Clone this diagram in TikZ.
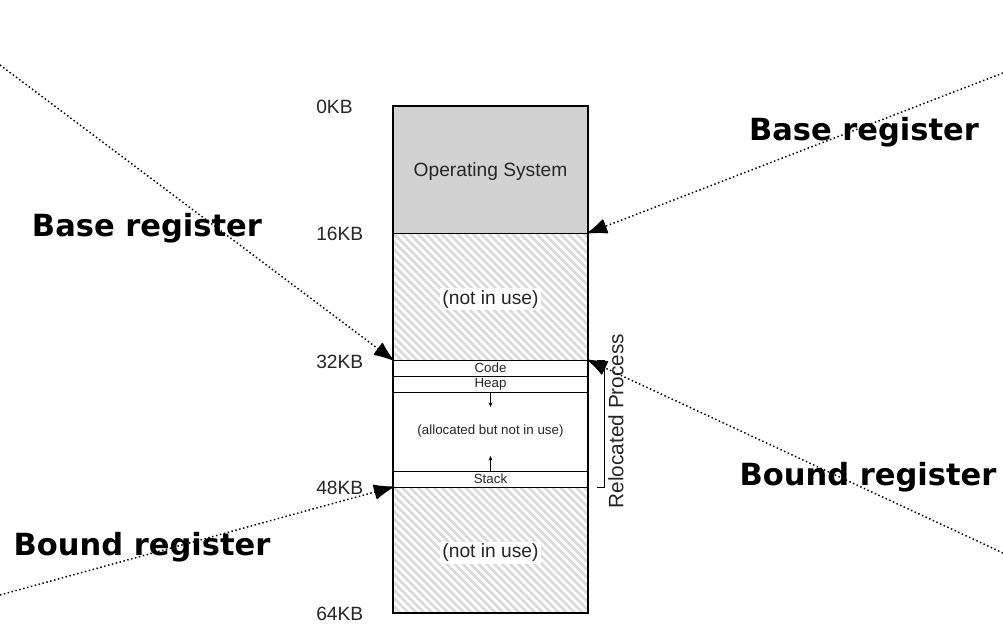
\documentclass[tikz,border=0pt]{standalone}
\usepackage{fontspec}
\setmainfont{Liberation Sans}
\newfontfamily\regfont{DejaVu Sans}
\usetikzlibrary{arrows.meta,positioning,calc,patterns.meta}

\begin{document}
\begin{tikzpicture}[x=0.75pt,y=-0.75pt,
        region/.style={rectangle, draw=black, line width=0.6pt, minimum width=146.25pt,
        inner sep=0pt, outer sep=0pt, anchor=north, text=black!85},
        hatched/.style={region, pattern={Lines[angle=-45,distance=4.2pt,line width=2pt]}, pattern color=gray!30},
        bigtext/.style={font=\fontsize{14.4}{16}\selectfont},
        smalltext/.style={font=\fontsize{10}{11}\selectfont},
        kblabel/.style={bigtext, anchor=west, inner sep=0pt, text=black!85},
        whitebox/.style={bigtext, fill=white, inner sep=1.5pt, text=black!85},
        reglabel/.style={font=\regfont\bfseries\fontsize{22.9}{26}\selectfont, inner sep=0pt},
        regarrow/.style={line width=1.1pt, dash pattern=on 1.1pt off 1.9pt,
        -{Latex[length=16pt,width=12pt,round=false]}}]
        \useasboundingbox (0,0) rectangle (1003,624);

        % memory regions, top to bottom
        \node (os) [region, fill=gray!35, minimum height=95.25pt, bigtext, text depth=-5pt] at (490.5,106) {Operating System};
        \node (free1) [hatched, minimum height=95.25pt, below=0pt of os] {};
        \node (code) [region, minimum height=12pt, below=0pt of free1, smalltext] {Code};
        \node (heap) [region, minimum height=12pt, below=0pt of code, smalltext] {Heap};
        \node (gap) [region, minimum height=59.25pt, below=0pt of heap, smalltext] {(allocated but not in use)};
        \node (stack) [region, minimum height=12pt, below=0pt of gap, smalltext] {Stack};
        \node (free2) [hatched, minimum height=94.5pt, below=0pt of stack] {};
        \node (free1txt) [whitebox] at ([yshift=-2pt]free1) {(not in use)};
        \node (free2txt) [whitebox] at ([yshift=-2pt]free2) {(not in use)};
        \draw[line width=1pt] (os.north west) rectangle (free2.south east);

        % growth arrows
        \draw[-{Stealth[length=3.5pt,width=3pt]}, line width=0.5pt] (heap.south) -- ++(0,15);
        \draw[-{Stealth[length=3.5pt,width=3pt]}, line width=0.5pt] (stack.north) -- ++(0,-15);

        % addresses
        \node (kb0) [kblabel] at (316,107) {0KB};
        \node (kb16) [kblabel] at (316,234) {16KB};
        \node (kb32) [kblabel] at (316,362) {32KB};
        \node (kb48) [kblabel] at (316,488) {48KB};
        \node (kb64) [kblabel] at (316,614) {64KB};

        % relocated process bracket
        \draw[line width=0.5pt] ($(code.north east)+(9,0)$) -- ++(7,0) |- ($(stack.south east)+(9,0)$);
        \node (reloc) [font=\fontsize{15.6}{17}\selectfont, rotate=90, inner sep=0pt, text=black!85] at (616,421) {Relocated Process};

        % registers
        \node (baseL) [reglabel] at (147,228) {Base register};
        \node (baseR) [reglabel] at (864,132) {Base register};
        \node (boundL) [reglabel] at (142,547) {Bound register};
        \node (boundR) [reglabel] at (868,477) {Bound register};

        \coordinate (fromBaseL) at (0,65);
        \coordinate (fromBaseR) at (1003,73);
        \coordinate (fromBoundL) at (0,595);
        \coordinate (fromBoundR) at (1003,553);

        \draw[regarrow] (fromBaseL) -- (code.north west);
        \draw[regarrow] (fromBaseR) -- (os.south east);
        \draw[regarrow] (fromBoundL) -- (free2.north west);
        \draw[regarrow] (fromBoundR) -- (code.north east);
    \end{tikzpicture}
\end{document}
